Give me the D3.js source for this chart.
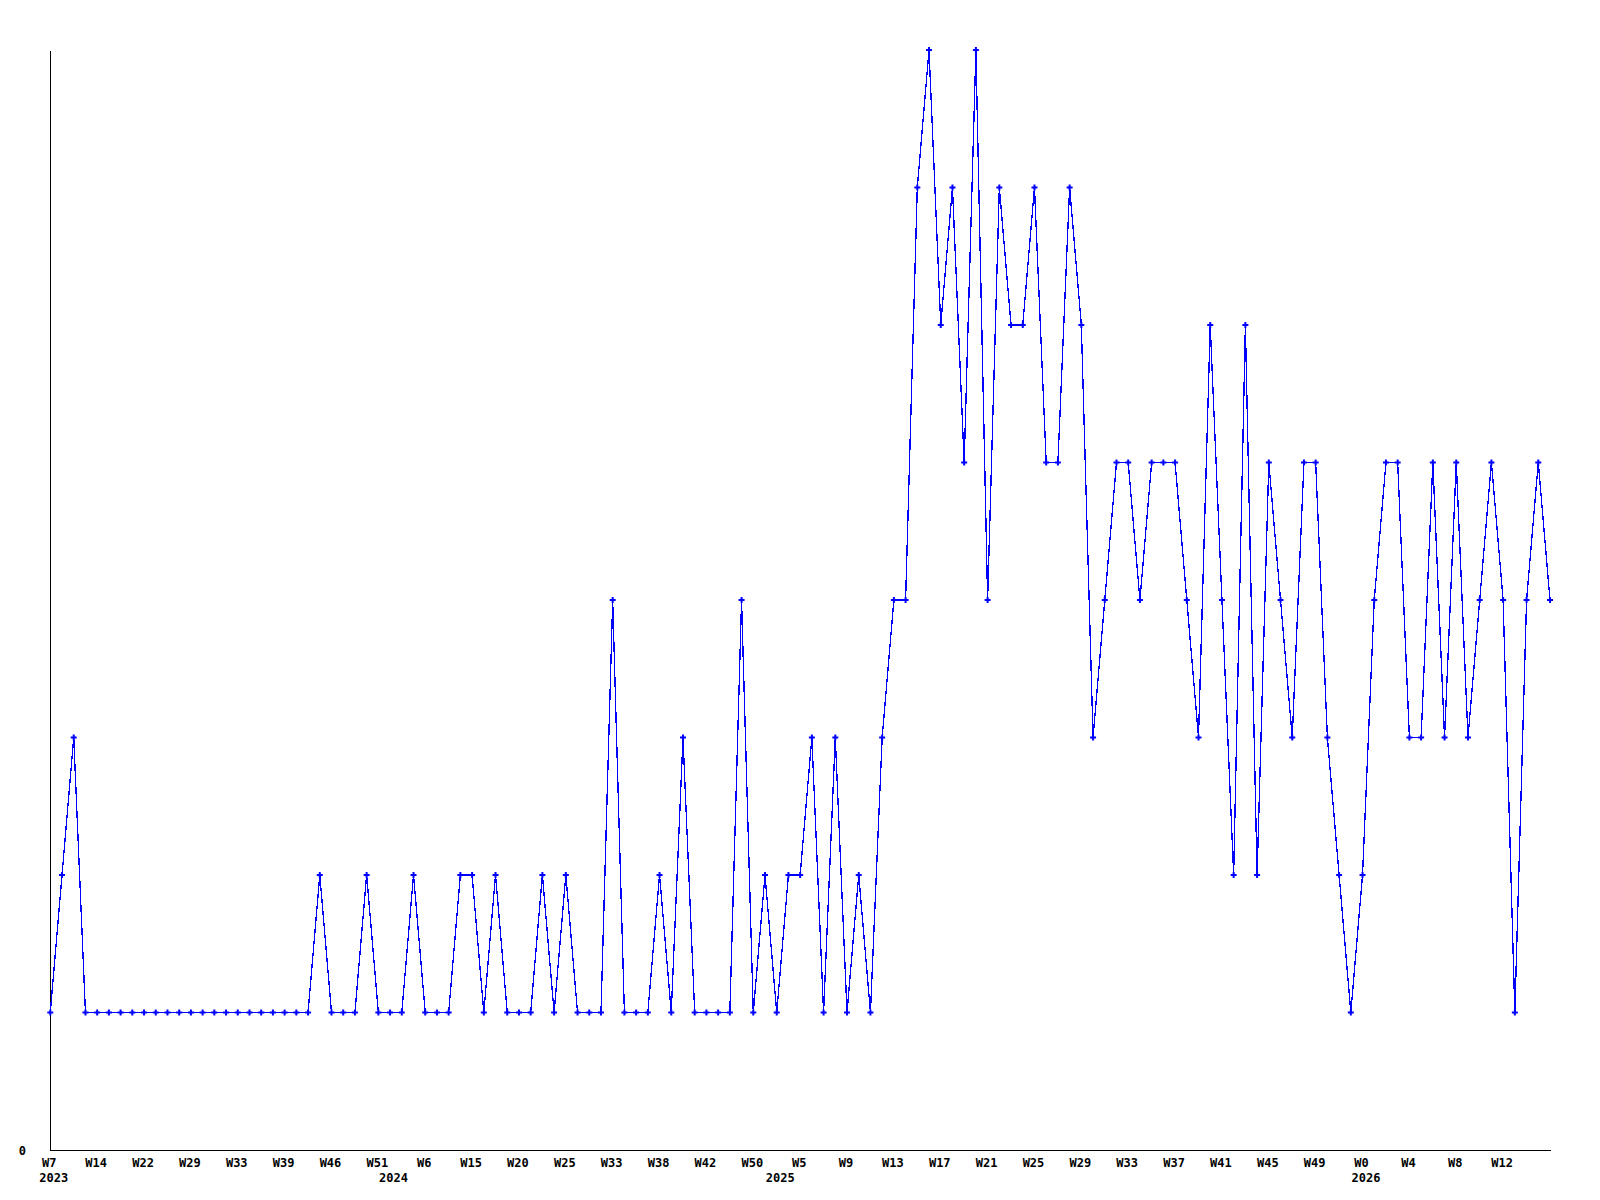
<!DOCTYPE html>
<html>
<head>
<meta charset="utf-8">
<script src="https://cdn.jsdelivr.net/npm/d3@7"></script>
<style>
  body { margin: 0; background: #fff; }
  text { font-family: "DejaVu Sans Mono", monospace; font-weight: bold; font-size: 12px; fill: #000; }
</style>
</head>
<body>
<svg width="1600" height="1200"></svg>
<script>
// valores semanales (uno por punto)
var valores = [
  1, 2, 3, 1, 1, 1, 1, 1, 1, 1, 1, 1, 1, 1, 1, 1, 1, 1, 1, 1,
  1, 1, 1, 2, 1, 1, 1, 2, 1, 1, 1, 2, 1, 1, 1, 2, 2, 1, 2, 1,
  1, 1, 2, 1, 2, 1, 1, 1, 4, 1, 1, 1, 2, 1, 3, 1, 1, 1, 1, 4,
  1, 2, 1, 2, 2, 3, 1, 3, 1, 2, 1, 3, 4, 4, 7, 8, 6, 7, 5, 8,
  4, 7, 6, 6, 7, 5, 5, 7, 6, 3, 4, 5, 5, 4, 5, 5, 5, 4, 3, 6,
  4, 2, 6, 2, 5, 4, 3, 5, 5, 3, 2, 1, 2, 4, 5, 5, 3, 3, 5, 3,
  5, 3, 4, 5, 4, 1, 4, 5, 4
];

// etiquetas del eje x, una cada 4 puntos
var etiquetas = ["W7", "W14", "W22", "W29", "W33", "W39", "W46", "W51", "W6", "W15", "W20",
  "W25", "W33", "W38", "W42", "W50", "W5", "W9", "W13", "W17", "W21", "W25",
  "W29", "W33", "W37", "W41", "W45", "W49", "W0", "W4", "W8", "W12"];
var cadaN = 4;

// años y el punto donde empiezan
var anios = ["2023", "2024", "2025", "2026"];
var aniosIndice = [0, 29, 62, 112];

var svg = d3.select("svg");

var x = d3.scaleLinear()
    .domain([0, valores.length - 1])
    .range([50.3, 1550]);

var y = d3.scaleLinear()
    .domain([0, 8])
    .range([1150, 50]);

// eje x
var ejeX = d3.axisBottom(x)
    .tickValues(etiquetas.map((d, i) => i * cadaN))
    .tickFormat((d, i) => etiquetas[i])
    .tickSize(0)
    .tickPadding(8);

var gx = svg.append("g")
    .attr("transform", "translate(0,1150)")
    .call(ejeX);
gx.select(".domain").attr("stroke", "#000").attr("shape-rendering", "crispEdges");
gx.selectAll("text").attr("dx", "-1.5").style("font-size", "12px").style("font-family", null);

// años debajo
svg.append("g").selectAll("text")
    .data(anios)
    .enter().append("text")
    .attr("x", (d, i) => x(aniosIndice[i]) - 11)
    .attr("y", 1181.5)
    .text(d => d);

// eje y, solo el 0
var ejeY = d3.axisLeft(y)
    .tickValues([0])
    .tickSize(0)
    .tickPadding(24);

var gy = svg.append("g")
    .attr("transform", "translate(50,0)")
    .call(ejeY);
gy.select(".domain").attr("stroke", "#000").attr("shape-rendering", "crispEdges");
gy.selectAll("text").attr("dy", "0.35em").style("font-size", "12px").style("font-family", null);

// línea
var linea = d3.line()
    .x((d, i) => x(i))
    .y(d => y(d));

svg.append("path")
    .datum(valores)
    .attr("fill", "none")
    .attr("stroke", "#0000ff")
    .attr("stroke-width", 1.3)
    .attr("shape-rendering", "crispEdges")
    .attr("d", linea);

// marcadores
svg.append("g").selectAll("path")
    .data(valores)
    .enter().append("path")
    .attr("transform", (d, i) => "translate(" + x(i) + "," + y(d) + ")")
    .attr("d", d3.symbol().type(d3.symbolCross).size(20))
    .attr("fill", "#0000ff");
</script>
</body>
</html>
